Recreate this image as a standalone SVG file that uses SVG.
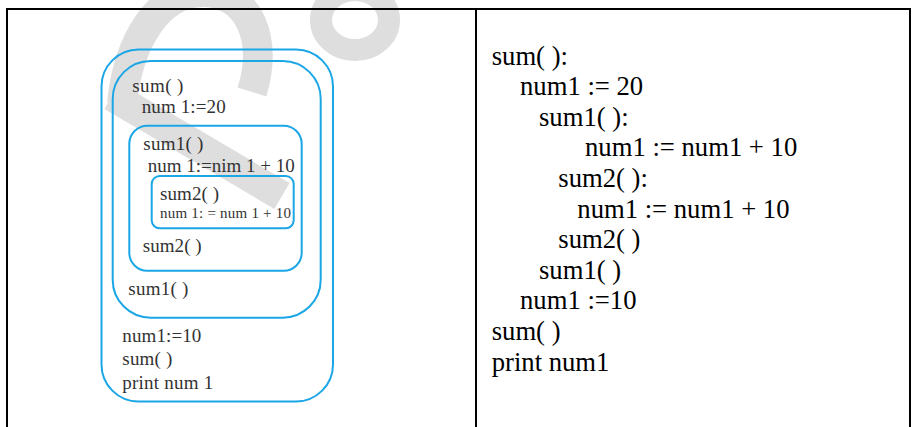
<svg xmlns="http://www.w3.org/2000/svg" width="912" height="427" viewBox="0 0 912 427">
  <style>
    .frame { fill: none; stroke: #000; stroke-width: 2; }
    .scope { fill: none; stroke: #1ba6e6; stroke-width: 2; }
    .mark { fill: none; stroke: #dedede; }
    .lbl { font-family: "Liberation Serif", "Times New Roman", serif; font-size: 19px; fill: #333; }
    .lbl-s { font-size: 15px; }
    .code { font-family: "Liberation Serif", "Times New Roman", serif; font-size: 26.67px; fill: #000; }
  </style>

  <rect width="912" height="427" fill="#fff"/>

  <!-- faint background watermark -->
  <g id="watermark">
    <path class="mark" stroke-width="30" d="M 122,104 C 128,40 160,-10 205,-8 C 250,-6 268,40 252,92"/>
    <path class="mark" stroke-width="30" d="M 112,96 L 282,196"/>
    <ellipse class="mark" stroke-width="22" cx="355" cy="20" rx="34" ry="30"/>
  </g>

  <!-- table frame -->
  <g id="table">
    <rect class="frame" x="7" y="9" width="903" height="430"/>
    <line class="frame" x1="476" y1="9" x2="476" y2="427"/>
  </g>

  <!-- nested scope diagram -->
  <g id="scope-main">
    <rect class="scope" x="101.5" y="49.5" width="231.5" height="352" rx="37"/>
    <text class="lbl" x="122.3" y="342.3" textLength="79" lengthAdjust="spacing">num1:=10</text>
    <text class="lbl" x="122.3" y="365" textLength="50" lengthAdjust="spacing">sum( )</text>
    <text class="lbl" x="122.3" y="389" textLength="91" lengthAdjust="spacing">print num 1</text>
  </g>
  <g id="scope-sum">
    <rect class="scope" x="112.7" y="61" width="208" height="256.7" rx="38"/>
    <text class="lbl" x="132.3" y="91.7" textLength="51" lengthAdjust="spacing">sum( )</text>
    <text class="lbl" x="141.7" y="112.7" textLength="84" lengthAdjust="spacing">num 1:=20</text>
    <text class="lbl" x="128.3" y="295" textLength="60" lengthAdjust="spacing">sum1( )</text>
  </g>
  <g id="scope-sum1">
    <rect class="scope" x="129.3" y="125.7" width="172.4" height="145" rx="18"/>
    <text class="lbl" x="143.3" y="150" textLength="60" lengthAdjust="spacing">sum1( )</text>
    <text class="lbl" x="147.7" y="171.7" textLength="147" lengthAdjust="spacing">num 1:=nim 1 + 10</text>
    <text class="lbl" x="142.7" y="252.3" textLength="59" lengthAdjust="spacing">sum2( )</text>
  </g>
  <g id="scope-sum2">
    <rect class="scope" x="151.7" y="176" width="142" height="52.3" rx="8"/>
    <text class="lbl" x="160" y="200" textLength="59" lengthAdjust="spacing">sum2( )</text>
    <text class="lbl lbl-s" x="160" y="218.3" textLength="131" lengthAdjust="spacing">num 1: = num 1 + 10</text>
  </g>

  <!-- pseudo-code listing -->
  <g id="listing">
    <text class="code" x="491.7" y="64.5">sum( ):</text>
    <text class="code" x="520" y="95.1">num1 := 20</text>
    <text class="code" x="539" y="125.7">sum1( ):</text>
    <text class="code" x="585" y="156.3">num1 := num1 + 10</text>
    <text class="code" x="558.3" y="186.9">sum2( ):</text>
    <text class="code" x="577.3" y="217.5">num1 := num1 + 10</text>
    <text class="code" x="558.3" y="248.1">sum2( )</text>
    <text class="code" x="539" y="278.7">sum1( )</text>
    <text class="code" x="520" y="309.3">num1 :=10</text>
    <text class="code" x="491.7" y="339.9">sum( )</text>
    <text class="code" x="491.7" y="370.5">print num1</text>
  </g>
</svg>
